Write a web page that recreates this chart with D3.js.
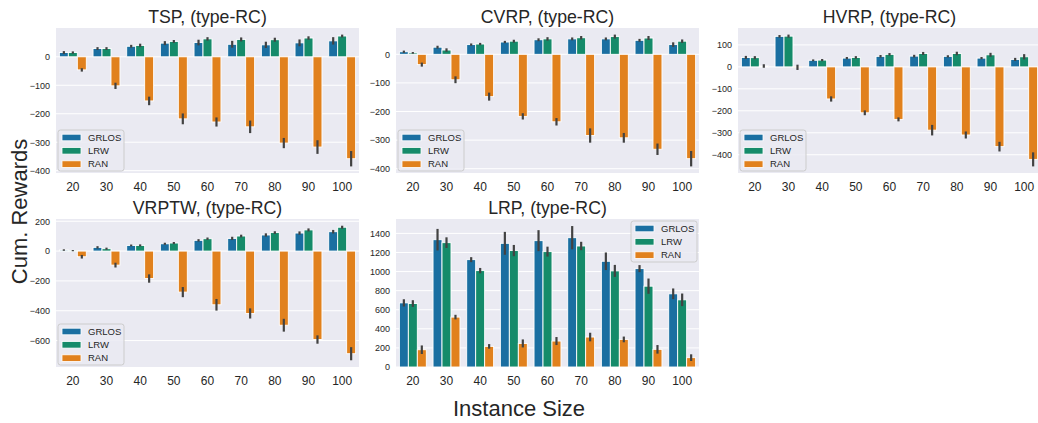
<!DOCTYPE html>
<html>
<head>
<meta charset="utf-8">
<script src="https://cdn.jsdelivr.net/npm/d3@7"></script>
<style>
  html, body { margin: 0; padding: 0; background: #ffffff; }
  svg { display: block; font-family: "Liberation Sans", Arial, sans-serif; }
</style>
</head>
<body>
<svg id="chart" width="1038" height="423"></svg>
<script>
// Instance sizes (x categories) and methods (hue)
const sizes = ["20", "30", "40", "50", "60", "70", "80", "90", "100"];
const methods = ["GRLOS", "LRW", "RAN"];

// TSP mean cumulative rewards and CI half-widths
const tspGrlos = [15, 29, 37, 48, 50, 44, 42, 49, 56];
const tspLrw   = [15, 29, 40, 54, 63, 61, 60, 66, 73];
const tspRan   = [-46, -102, -155, -218, -229, -246, -303, -317, -358];
const tspGrlosErr = [5, 5, 5, 7, 10, 12, 11, 12, 13];
const tspLrwErr   = [4, 5, 6, 5, 6, 7, 7, 6, 5];
const tspRanErr   = [6, 11, 15, 19, 16, 22, 18, 24, 27];
const tspTicks = [-400, -300, -200, -100, 0];

// CVRP
const cvrpGrlos = [9, 25, 34, 43, 51, 54, 54, 49, 34];
const cvrpLrw   = [5, 15, 36, 46, 54, 58, 62, 57, 46];
const cvrpRan   = [-36, -89, -148, -217, -236, -284, -292, -332, -365];
const cvrpGrlosErr = [4, 5, 4, 4, 5, 5, 5, 5, 8];
const cvrpLrwErr   = [3, 6, 4, 5, 6, 6, 7, 7, 6];
const cvrpRanErr   = [7, 12, 14, 11, 13, 25, 17, 20, 27];
const cvrpTicks = [-400, -300, -200, -100, 0];

// HVRP
const hvrpGrlos = [43, 139, 30, 40, 48, 49, 48, 40, 34];
const hvrpLrw   = [42, 140, 31, 43, 57, 61, 61, 55, 46];
const hvrpRan   = [4, -2, -146, -209, -239, -288, -310, -363, -421];
const hvrpGrlosErr = [7, 6, 4, 5, 6, 6, 5, 5, 7];
const hvrpLrwErr   = [7, 7, 5, 6, 6, 7, 8, 9, 12];
const hvrpRanErr   = [8, 12, 12, 11, 9, 24, 16, 22, 32];
const hvrpTicks = [-400, -300, -200, -100, 0, 100];

// VRPTW
const vrptwGrlos = [7, 25, 38, 49, 72, 85, 108, 121, 130];
const vrptwLrw   = [3, 16, 38, 54, 83, 101, 124, 142, 160];
const vrptwRan   = [-38, -94, -184, -275, -360, -418, -497, -593, -688];
const vrptwGrlosErr = [5, 8, 6, 7, 8, 11, 11, 11, 12];
const vrptwLrwErr   = [4, 7, 7, 7, 8, 9, 9, 10, 10];
const vrptwRanErr   = [12, 16, 28, 34, 39, 34, 43, 28, 44];
const vrptwTicks = [-600, -400, -200, 0, 200];

// LRP
const lrpGrlos = [672, 1334, 1125, 1296, 1324, 1355, 1108, 1031, 767];
const lrpLrw   = [665, 1303, 1010, 1220, 1209, 1268, 1007, 847, 704];
const lrpRan   = [181, 523, 216, 247, 272, 314, 289, 185, 98];
const lrpGrlosErr = [38, 113, 26, 120, 110, 122, 92, 37, 56];
const lrpLrwErr   = [35, 56, 28, 59, 52, 44, 63, 80, 66];
const lrpRanErr   = [45, 24, 24, 42, 42, 45, 30, 45, 35];
const lrpTicks = [0, 200, 400, 600, 800, 1000, 1200, 1400];

const palette = { GRLOS: "#1a6fa1", LRW: "#158b6a", RAN: "#e1811d" };
const textColor = "#262626";

const colX = [56, 396, 738];
const panelW = 303;
const rows = [{ y: 28, h: 145 }, { y: 219, h: 148 }];

const panels = [
  { title: "TSP, (type-RC)",   col: 0, row: 0, vals: [tspGrlos, tspLrw, tspRan],       errs: [tspGrlosErr, tspLrwErr, tspRanErr],       ticks: tspTicks,   legend: "lower left" },
  { title: "CVRP, (type-RC)",  col: 1, row: 0, vals: [cvrpGrlos, cvrpLrw, cvrpRan],    errs: [cvrpGrlosErr, cvrpLrwErr, cvrpRanErr],    ticks: cvrpTicks,  legend: "lower left" },
  { title: "HVRP, (type-RC)",  col: 2, row: 0, vals: [hvrpGrlos, hvrpLrw, hvrpRan],    errs: [hvrpGrlosErr, hvrpLrwErr, hvrpRanErr],    ticks: hvrpTicks,  legend: "lower left" },
  { title: "VRPTW, (type-RC)", col: 0, row: 1, vals: [vrptwGrlos, vrptwLrw, vrptwRan], errs: [vrptwGrlosErr, vrptwLrwErr, vrptwRanErr], ticks: vrptwTicks, legend: "lower left" },
  { title: "LRP, (type-RC)",   col: 1, row: 1, vals: [lrpGrlos, lrpLrw, lrpRan],       errs: [lrpGrlosErr, lrpLrwErr, lrpRanErr],       ticks: lrpTicks,   legend: "upper right" }
];

const svg = d3.select("#chart");
const defs = svg.append("defs");

panels.forEach((p, pi) => {
  const x0 = colX[p.col], y0 = rows[p.row].y, w = panelW, h = rows[p.row].h;

  // y extent from bar tops and error-bar ends, with 5% margins (0 stays sticky)
  let lo = 0, hi = 0;
  p.vals.forEach((arr, k) => arr.forEach((v, i) => {
    lo = Math.min(lo, v - p.errs[k][i]);
    hi = Math.max(hi, v + p.errs[k][i]);
  }));
  const pad = 0.05 * (hi - lo);
  const y = d3.scaleLinear()
    .domain([lo === 0 ? 0 : lo - pad, hi === 0 ? 0 : hi + pad])
    .range([h, 0]);
  const x = d3.scaleBand().domain(sizes).range([0, w]).paddingInner(0.2).paddingOuter(0.1);
  const xm = d3.scaleBand().domain(methods).range([0, x.bandwidth()]);

  const g = svg.append("g").attr("transform", `translate(${x0},${y0})`);
  const clipId = "clip" + pi;
  defs.append("clipPath").attr("id", clipId)
    .append("rect").attr("width", w).attr("height", h);

  g.append("rect").attr("width", w).attr("height", h).attr("fill", "#eaeaf2");

  // horizontal grid
  const yAxis = d3.axisLeft(y).tickValues(p.ticks).tickSize(0).tickPadding(6)
    .tickFormat(d => d3.format("d")(d).replace("-", "\u2212"));
  const ya = g.append("g").call(yAxis);
  ya.select(".domain").remove();
  ya.selectAll("text").attr("font-size", 9).attr("fill", textColor)
    .attr("font-family", "'Liberation Sans', Arial, sans-serif");

  const plot = g.append("g").attr("clip-path", `url(#${clipId})`);
  plot.selectAll("line.grid").data(p.ticks).join("line")
    .attr("class", "grid")
    .attr("x1", 0).attr("x2", w)
    .attr("y1", d => y(d)).attr("y2", d => y(d))
    .attr("stroke", "#ffffff").attr("stroke-width", 1);

  // bars
  methods.forEach((m, k) => {
    const rowsData = sizes.map((s, i) => ({ s, v: p.vals[k][i], e: p.errs[k][i] }));
    plot.append("g").selectAll("rect").data(rowsData).join("rect")
      .attr("x", d => x(d.s) + xm(m))
      .attr("width", xm.bandwidth())
      .attr("y", d => y(Math.max(0, d.v)))
      .attr("height", d => Math.abs(y(d.v) - y(0)))
      .attr("fill", palette[m])
      .attr("stroke", "#ffffff").attr("stroke-width", 0.9);
  });
  // error bars
  methods.forEach((m, k) => {
    const rowsData = sizes.map((s, i) => ({ s, v: p.vals[k][i], e: p.errs[k][i] }));
    plot.append("g").selectAll("line").data(rowsData).join("line")
      .attr("x1", d => x(d.s) + xm(m) + xm.bandwidth() / 2)
      .attr("x2", d => x(d.s) + xm(m) + xm.bandwidth() / 2)
      .attr("y1", d => y(d.v - d.e))
      .attr("y2", d => y(d.v + d.e))
      .attr("stroke", "#424242").attr("stroke-width", 2.2);
  });

  // x axis labels
  const xAxis = d3.axisBottom(x).tickSize(0).tickPadding(9);
  const xa = g.append("g").attr("transform", `translate(0,${h})`).call(xAxis);
  xa.select(".domain").remove();
  xa.selectAll("text").attr("font-size", 12).attr("fill", textColor)
    .attr("font-family", "'Liberation Sans', Arial, sans-serif");

  // title
  g.append("text").attr("x", w / 2).attr("y", -5)
    .attr("text-anchor", "middle").attr("font-size", 17.7).attr("fill", textColor)
    .text(p.title);

  // legend
  const lw = 66, lh = 41;
  const lx = p.legend === "upper right" ? w - lw - 2 : 2;
  const ly = p.legend === "upper right" ? 2 : h - lh - 2;
  const lg = g.append("g").attr("transform", `translate(${lx},${ly})`);
  lg.append("rect").attr("width", lw).attr("height", lh).attr("rx", 2.5)
    .attr("fill", "#eaeaf2").attr("fill-opacity", 0.85)
    .attr("stroke", "#cccccc").attr("stroke-width", 1);
  methods.forEach((m, k) => {
    const cy = 7.5 + k * 13.3;
    lg.append("rect").attr("x", 4).attr("y", cy - 3.3).attr("width", 19).attr("height", 6.6)
      .attr("fill", palette[m]).attr("stroke", "#ffffff").attr("stroke-width", 0.8);
    lg.append("text").attr("x", 30).attr("y", cy).attr("dy", "0.35em")
      .attr("font-size", 9.5).attr("fill", textColor).text(m);
  });
});

// shared axis labels
svg.append("text")
  .attr("transform", "translate(27,211.5) rotate(-90)")
  .attr("text-anchor", "middle").attr("font-size", 22).attr("fill", textColor)
  .text("Cum. Rewards");
svg.append("text")
  .attr("x", 519).attr("y", 416)
  .attr("text-anchor", "middle").attr("font-size", 22).attr("fill", textColor)
  .text("Instance Size");
</script>
</body>
</html>
